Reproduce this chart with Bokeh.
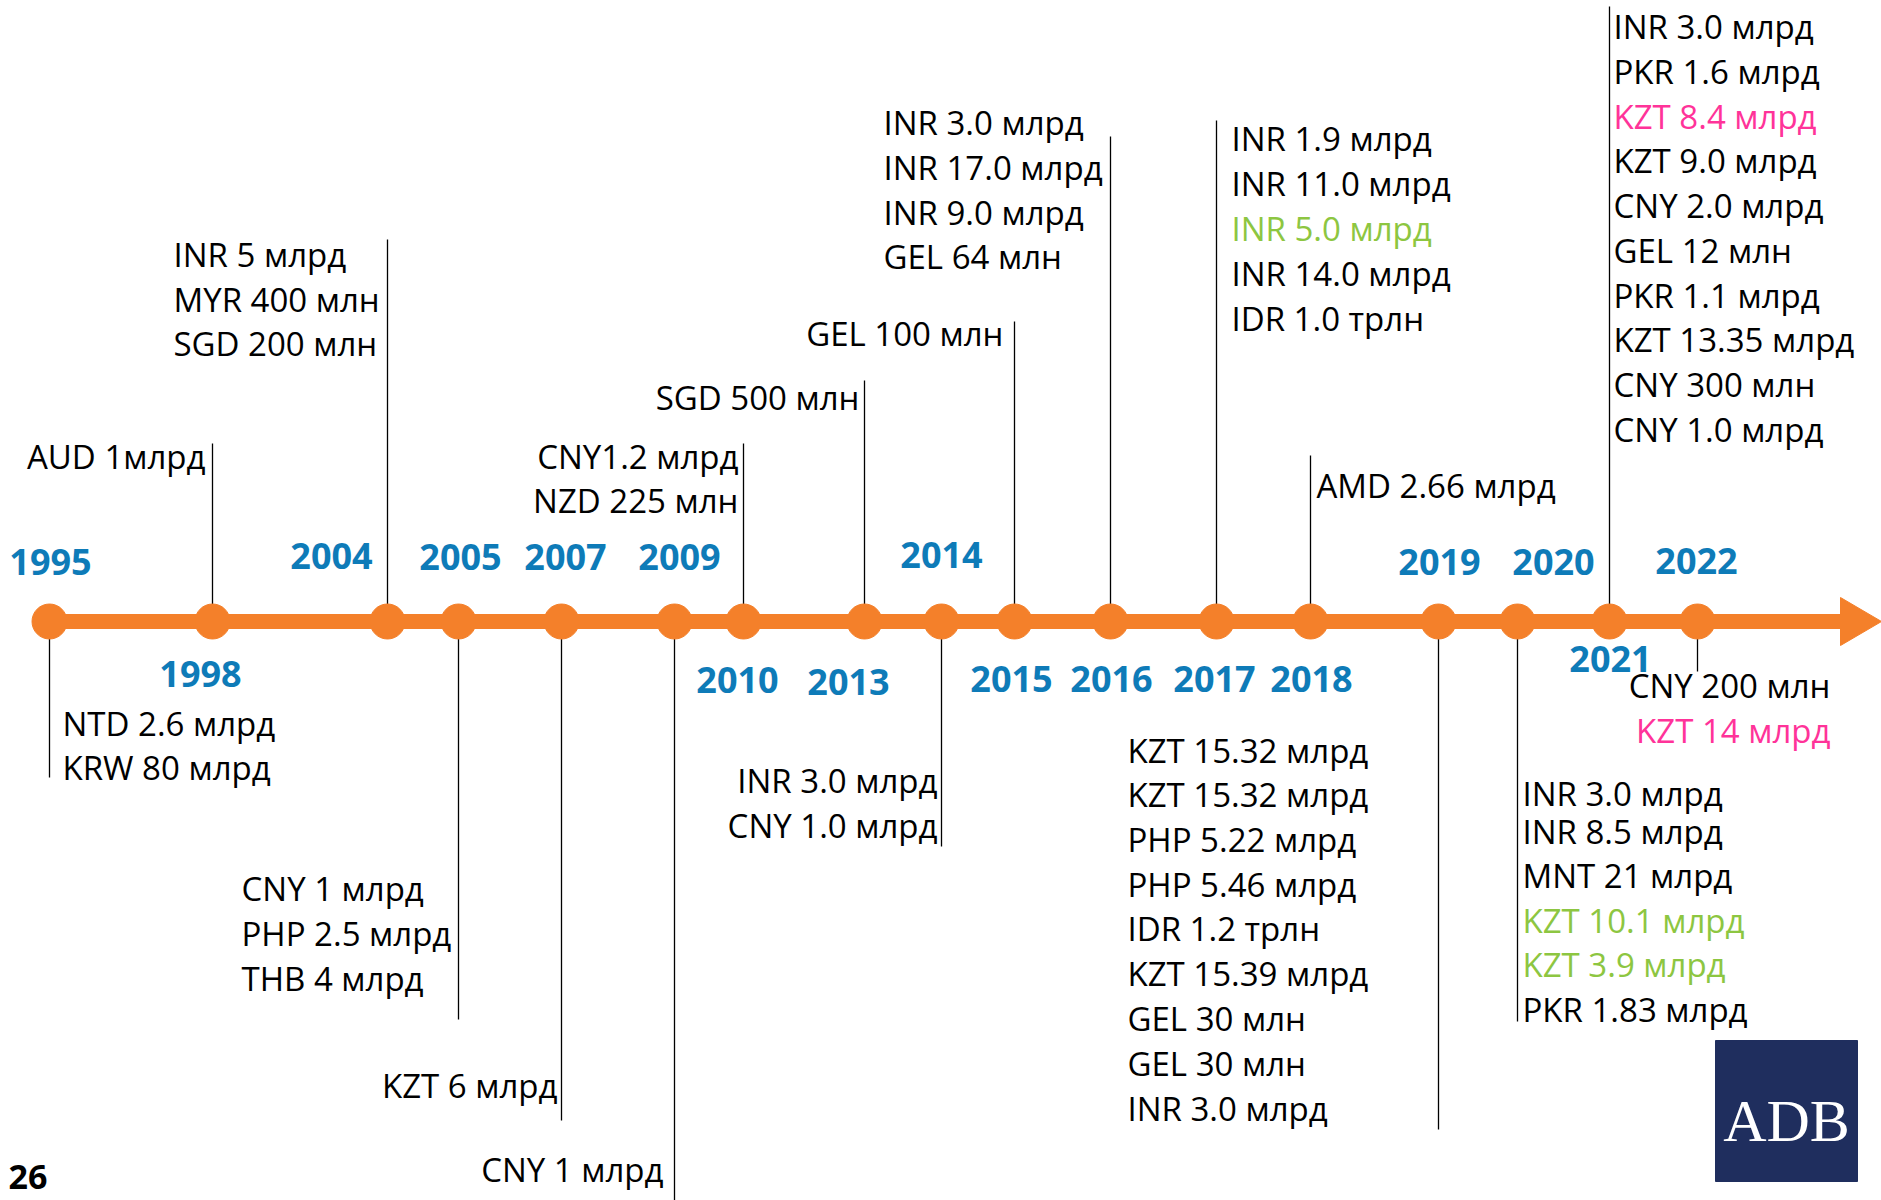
from bokeh.plotting import figure
from bokeh.models import Range1d, ColumnDataSource
from bokeh.core.properties import value
from bokeh.embed import file_html
from bokeh.resources import INLINE

# ---------------- data ----------------
years = [1995, 1998, 2004, 2005, 2007, 2009, 2010, 2013, 2014, 2015,
         2016, 2017, 2018, 2019, 2020, 2021, 2022]

iss_1995 = ["NTD 2.6 млрд", "KRW 80 млрд"]
iss_1998 = ["AUD 1млрд"]
iss_2004 = ["INR 5 млрд", "MYR 400 млн", "SGD 200 млн"]
iss_2005 = ["CNY 1 млрд", "PHP 2.5 млрд", "THB 4 млрд"]
iss_2007 = ["KZT 6 млрд"]
iss_2009 = ["CNY 1 млрд"]
iss_2010 = ["CNY1.2 млрд", "NZD 225 млн"]
iss_2013 = ["SGD 500 млн"]
iss_2014 = ["INR 3.0 млрд", "CNY 1.0 млрд"]
iss_2015 = ["GEL 100 млн"]
iss_2016 = ["INR 3.0 млрд", "INR 17.0 млрд", "INR 9.0 млрд", "GEL 64 млн"]
iss_2017 = ["INR 1.9 млрд", "INR 11.0 млрд", "INR 5.0 млрд", "INR 14.0 млрд", "IDR 1.0 трлн"]
iss_2018 = ["AMD 2.66 млрд"]
iss_2019 = ["KZT 15.32 млрд", "KZT 15.32 млрд", "PHP 5.22 млрд", "PHP 5.46 млрд",
            "IDR 1.2 трлн", "KZT 15.39 млрд", "GEL 30 млн", "GEL 30 млн", "INR 3.0 млрд"]
iss_2020 = ["INR 3.0 млрд", "INR 8.5 млрд", "MNT 21 млрд", "KZT 10.1 млрд",
            "KZT 3.9 млрд", "PKR 1.83 млрд"]
iss_2021 = ["INR 3.0 млрд", "PKR 1.6 млрд", "KZT 8.4 млрд", "KZT 9.0 млрд", "CNY 2.0 млрд",
            "GEL 12 млн", "PKR 1.1 млрд", "KZT 13.35 млрд", "CNY 300 млн", "CNY 1.0 млрд"]
iss_2022 = ["CNY 200 млн", "KZT 14 млрд"]

issues = [iss_1995, iss_1998, iss_2004, iss_2005, iss_2007, iss_2009, iss_2010, iss_2013,
          iss_2014, iss_2015, iss_2016, iss_2017, iss_2018, iss_2019, iss_2020, iss_2021, iss_2022]

# highlighted entries: (year, row index)
green_items = [(2017, 2), (2020, 3), (2020, 4)]
pink_items = [(2021, 2), (2022, 1)]
page_number = "26"
logo_text = "ADB"

# ---------------- layout (screen px of the 1881x1200 page) ----------------
dot_x = [49, 212, 387, 458, 561, 674, 743, 864, 941, 1014, 1110, 1216, 1310, 1438, 1517, 1609, 1697]
axis_y = 621
year_lx = [50, 200, 331, 460, 565, 679, 737, 848, 941, 1011, 1111, 1214, 1311, 1439, 1553, 1610, 1696]
year_ly = [561, 673, 555, 556, 556, 556, 679, 681, 554, 678, 678, 678, 678, 561, 561, 658, 560]
stem_end = [777, 443, 239, 1019, 1120, 1200, 443, 380, 846, 321, 136, 120, 455, 1129, 1021, 6, 671]
text_x = [62, 205, 173, 241, 557, 663, 738, 859, 937, 1003, 883, 1231, 1316, 1127, 1522, 1613, 1830]
text_align = ["left", "right", "left", "left", "right", "right", "right", "right", "right",
              "right", "left", "left", "left", "left", "left", "left", "right"]
row_y = [[723, 767], [456], [254, 299, 343], [888, 933, 978], [1085], [1169], [456, 500], [397],
         [780, 825], [333], [122, 167, 212, 256], [138, 183, 228, 273, 318], [485],
         [750, 794, 839, 884, 928, 973, 1018, 1063, 1108], [793, 831, 875, 920, 964, 1009],
         [26, 71, 116, 160, 205, 250, 295, 339, 384, 429], [685, 730]]

ORANGE = "#F4802A"
BLUE = "#0E7BB8"
GREEN = "#8DC641"
PINK = "#FF3399"
NAVY = "#1F2E5E"
FONT = "Open Sans"
TXT_SIZE = "33px"

W, H = 1881, 1200
p = figure(width=W, height=H, output_backend="svg", toolbar_location=None,
           x_range=Range1d(0, W), y_range=Range1d(H, 0),
           x_axis_type=None, y_axis_type=None, min_border=0)
p.grid.visible = False
p.outline_line_color = None
p.background_fill_color = "white"
p.border_fill_color = "white"

# stems
p.segment(x0=dot_x, y0=[axis_y] * len(dot_x), x1=dot_x, y1=stem_end,
          line_color="black", line_width=1.3)

# axis line with arrow head
p.segment(x0=[dot_x[0]], y0=[axis_y], x1=[1842], y1=[axis_y], line_color=ORANGE, line_width=15)
p.patch([1840, 1881, 1840], [597, axis_y, 645], fill_color=ORANGE, line_color=ORANGE)

# dots
p.scatter(dot_x, [axis_y] * len(dot_x), size=35, marker="circle",
          fill_color=ORANGE, line_color=ORANGE)

# year labels
ysrc = ColumnDataSource(dict(x=year_lx, y=year_ly, t=[str(y) for y in years]))
p.text(x="x", y="y", text="t", source=ysrc, text_font=value(FONT), text_font_style="bold",
       text_font_size="36px", text_color=BLUE, text_align="center", text_baseline="middle")

# issue labels
for align in ("left", "right"):
    xs, ys, ts, cs = [], [], [], []
    for i, yr in enumerate(years):
        if text_align[i] != align:
            continue
        for j, s in enumerate(issues[i]):
            xs.append(text_x[i])
            ys.append(row_y[i][j])
            ts.append(s)
            if (yr, j) in green_items:
                cs.append(GREEN)
            elif (yr, j) in pink_items:
                cs.append(PINK)
            else:
                cs.append("black")
    src = ColumnDataSource(dict(x=xs, y=ys, t=ts, c=cs))
    p.text(x="x", y="y", text="t", text_color="c", source=src, text_font=value(FONT),
           text_font_size=TXT_SIZE, text_align=align, text_baseline="middle")

# page number
p.text(x=[8], y=[1176], text=[page_number], text_font=value(FONT), text_font_style="bold",
       text_font_size="34px", text_color="black", text_align="left", text_baseline="middle")

# logo
p.quad(left=[1715], right=[1857], top=[1040], bottom=[1181], fill_color=NAVY, line_color=NAVY)
p.text(x=[1786], y=[1120], text=[logo_text], text_font=value("Liberation Serif"),
       text_font_size="60px", text_color="white", text_align="center", text_baseline="middle")

open("out.html", "w").write(file_html(p, INLINE))
